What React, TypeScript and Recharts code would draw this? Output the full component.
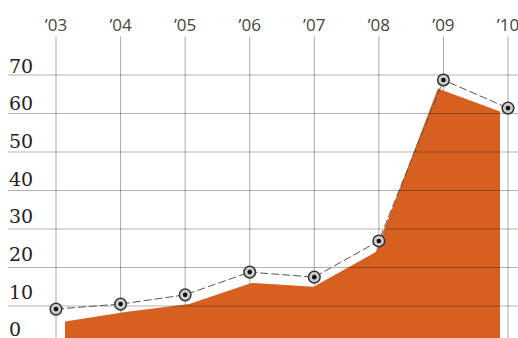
import { ComposedChart, Area, Line, XAxis, YAxis, CartesianGrid, ReferenceLine } from 'recharts';

const years = ['’03', '’04', '’05', '’06', '’07', '’08', '’09', '’10'];
const lineValues = [9.2, 10.5, 12.9, 18.8, 17.5, 26.9, 68.7, 61.4];
const areaValues = [6, 8.5, 10.5, 16, 15, 24, 66.5, 60.5];
const yTicks = [0, 10, 20, 30, 40, 50, 60, 70];

const data = years.map((year, i) => ({
  year,
  line: lineValues[i],
  area: areaValues[i],
}));

const PAD_LEFT = 48;
const PAD_RIGHT = 10;

const YearTick = ({ x, payload }: any) => (
  <text x={x} y={31} textAnchor="middle" fontFamily="'Open Sans', sans-serif" fontSize={17} fill="#444">
    {payload.value}
  </text>
);

// labels sit just above their gridline, drifting up slightly toward the bottom
const valueLabel = (value: number) => (props: any) => (
  <text
    x={9}
    y={props.viewBox.y - 2.5 - (70 - value) * 0.08}
    textAnchor="start"
    fontFamily="'DejaVu Serif', serif"
    fontSize={19}
    fill="#222"
  >
    {value}
  </text>
);

const RingDot = ({ cx, cy }: any) => (
  <g>
    <circle cx={cx} cy={cy} r={5.8} fill="#ccc" stroke="#333" strokeWidth={1.5} />
    <circle cx={cx} cy={cy} r={2.3} fill="#111" />
  </g>
);

const yearLines = ({ xAxis, offset }: any) => {
  const s = xAxis?.scale;
  if (typeof s === 'function') {
    const pts = years.map(y => s(y));
    if (pts.every((p: any) => Number.isFinite(p))) return pts;
  }
  const start = offset.left + PAD_LEFT;
  const step = (offset.width - PAD_LEFT - PAD_RIGHT) / (years.length - 1);
  return years.map((_, i) => start + i * step);
};

export default function App() {
  return (
    <div style={{ position: 'absolute', left: 0, top: 0, width: 518, height: 338, overflow: 'hidden', background: '#fff' }}>
      <ComposedChart width={518} height={346} data={data} margin={{ top: 0, right: 0, bottom: 1.5, left: 8 }}>
        <CartesianGrid horizontal={false} stroke="#aaa" verticalCoordinatesGenerator={yearLines} />
        <XAxis
          dataKey="year"
          orientation="top"
          height={36.5}
          padding={{ left: PAD_LEFT, right: PAD_RIGHT }}
          axisLine={false}
          tickLine={false}
          tick={<YearTick />}
          interval={0}
        />
        <XAxis dataKey="year" xAxisId="area" hide padding={{ left: 57, right: 18 }} />
        <YAxis width={0} hide domain={[0, 80]} ticks={yTicks} />
        <Area
          xAxisId="area"
          dataKey="area"
          type="linear"
          fill="#d5601f"
          fillOpacity={1}
          stroke="none"
          isAnimationActive={false}
        />
        {yTicks.map(t => (
          <ReferenceLine key={t} y={t} stroke="rgba(0,0,0,0.3)" strokeWidth={1.2} label={valueLabel(t)} />
        ))}
        <Line
          dataKey="line"
          type="linear"
          stroke="#555"
          strokeWidth={1}
          strokeDasharray="8 3"
          dot={<RingDot />}
          isAnimationActive={false}
        />
      </ComposedChart>
    </div>
  );
}
